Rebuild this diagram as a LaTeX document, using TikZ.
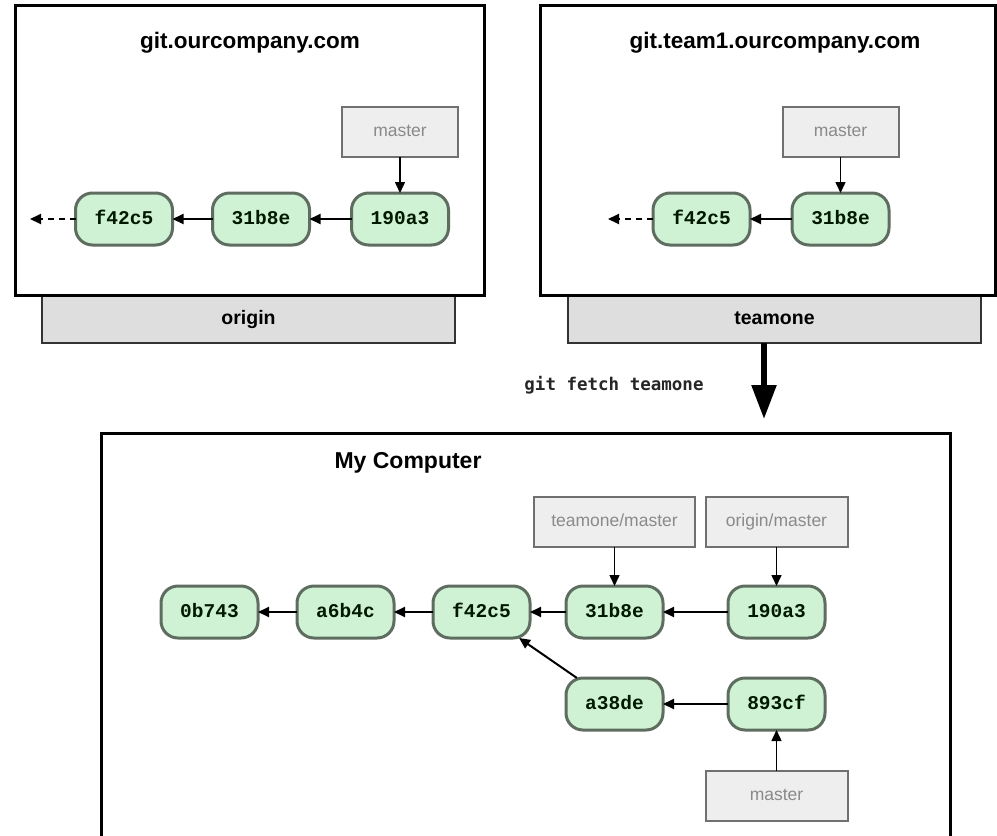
\documentclass[tikz,border=0pt]{standalone}
\usepackage{fontspec}
\setmainfont{Liberation Sans}
\newfontfamily\hashfont{Liberation Mono}
\newfontfamily\cmdfont{DejaVu Sans Mono}
\usepackage{tikz}
\usetikzlibrary{arrows.meta}
\usetikzlibrary{positioning}
\definecolor{commitgreen}{HTML}{CFF2D5}
\definecolor{commitborder}{HTML}{5E6D5F}
\definecolor{branchgray}{HTML}{EEEEEE}
\definecolor{branchborder}{HTML}{707070}
\definecolor{branchtext}{HTML}{8A8A8A}
\definecolor{tabgray}{HTML}{DEDEDE}

\begin{document}
\begin{tikzpicture}[x=1pt, y=-1pt, every node/.style={align=center, inner sep=0pt, outer sep=0pt}, >={Triangle[length=11pt,width=10pt]}]
        \def\gap{39pt}
        \tikzset{
            commit/.style={draw=commitborder, fill=commitgreen, line width=3pt, rounded corners=17pt, minimum width=97pt, minimum height=52pt, text=black!90!green, text height=13pt, text depth=2pt, font=\hashfont\bfseries\fontsize{19.5}{20}\selectfont},
            branch/.style={draw=branchborder, fill=branchgray, line width=2pt, minimum height=50pt, text=branchtext, text height=13pt, text depth=4pt, font=\fontsize{17.5}{18}\selectfont},
            server/.style={draw=black, fill=white, line width=3pt},
            remotetab/.style={draw=black!80, fill=tabgray, line width=2.5pt, minimum width=413pt, minimum height=48pt, text height=14pt, text depth=4pt, font=\bfseries\fontsize{19.5}{20}\selectfont},
            title/.style={font=\bfseries\fontsize{22.5}{24}\selectfont},
            parent/.style={->, line width=2pt},
            pointer/.style={->, line width=1.5pt}
        }
        \useasboundingbox (0,0) rectangle (997,836);
        % origin server
        \node[remotetab] (origintab) at (248.5,319) {origin};
        \node[server, minimum width=469pt, minimum height=290pt] (originbox) at (249.5,150) {};
        \node[title] (origintitle) at (250,43) {git.ourcompany.com};
        \node[commit] (o190a3) at (400,219) {190a3};
        \node[commit, left=42pt of o190a3] (o31b8e) {31b8e};
        \node[commit, left=40pt of o31b8e] (of42c5) {f42c5};
        \node[branch, minimum width=116pt, above=36pt of o190a3] (omaster) {master};
        \coordinate (oend) at (30,219);
        \draw[parent] (o190a3) -- (o31b8e);
        \draw[parent] (o31b8e) -- (of42c5);
        \draw[parent, dash pattern=on 6pt off 5pt] (of42c5) -- (oend);
        \draw[pointer] (omaster) -- (o190a3);
        % teamone server
        \node[remotetab] (teamtab) at (774.5,319) {teamone};
        \node[server, minimum width=455pt, minimum height=290pt] (teambox) at (767.5,150) {};
        \node[title] (teamtitle) at (775,43) {git.team1.ourcompany.com};
        \node[commit] (t31b8e) at (840.5,219) {31b8e};
        \node[commit, left=42pt of t31b8e] (tf42c5) {f42c5};
        \node[branch, minimum width=116pt, above=36pt of t31b8e] (tmaster) {master};
        \coordinate (tend) at (608,219);
        \draw[parent] (t31b8e) -- (tf42c5);
        \draw[parent, dash pattern=on 6pt off 5pt] (tf42c5) -- (tend);
        \draw[pointer] (tmaster) -- (t31b8e);
        % fetch
        \coordinate (fetchend) at (764,419);
        \draw[line width=5.5pt, -{Triangle[length=34pt,width=24pt]}] (teamtab.south -| fetchend) -- (fetchend);
        \node[font=\cmdfont\bfseries\fontsize{17.5}{18}\selectfont, text=black!85] (fetchcmd) at (614,385) {git fetch teamone};
        % my computer
        \node[server, anchor=north west, minimum width=849pt, minimum height=430pt] (mybox) at (101,433) {};
        \node[title, font=\bfseries\fontsize{23}{24}\selectfont] (mytitle) at (408,463) {My Computer};
        \node[commit] (m190a3) at (776.5,612) {190a3};
        \node[commit, left=65pt of m190a3] (m31b8e) {31b8e};
        \node[commit, left=36pt of m31b8e] (mf42c5) {f42c5};
        \node[commit, left=\gap of mf42c5] (ma6b4c) {a6b4c};
        \node[commit, left=\gap of ma6b4c] (m0b743) {0b743};
        \node[commit, below=40pt of m31b8e] (ma38de) {a38de};
        \node[commit, right=65pt of ma38de] (m893cf) {893cf};
        \node[branch, minimum width=161pt, above=\gap of m31b8e] (mteamone) {teamone/master};
        \node[branch, minimum width=142pt, above=\gap of m190a3] (morigin) {origin/master};
        \node[branch, minimum width=142pt, below=41pt of m893cf] (mmaster) {master};
        \draw[parent] (m190a3) -- (m31b8e);
        \draw[parent] (m31b8e) -- (mf42c5);
        \draw[parent] (mf42c5) -- (ma6b4c);
        \draw[parent] (ma6b4c) -- (m0b743);
        \draw[parent] (m893cf) -- (ma38de);
        \draw[parent] (ma38de) -- (mf42c5);
        \draw[pointer] (mteamone) -- (m31b8e);
        \draw[pointer] (morigin) -- (m190a3);
        \draw[pointer] (mmaster) -- (m893cf);
    \end{tikzpicture}
\end{document}
